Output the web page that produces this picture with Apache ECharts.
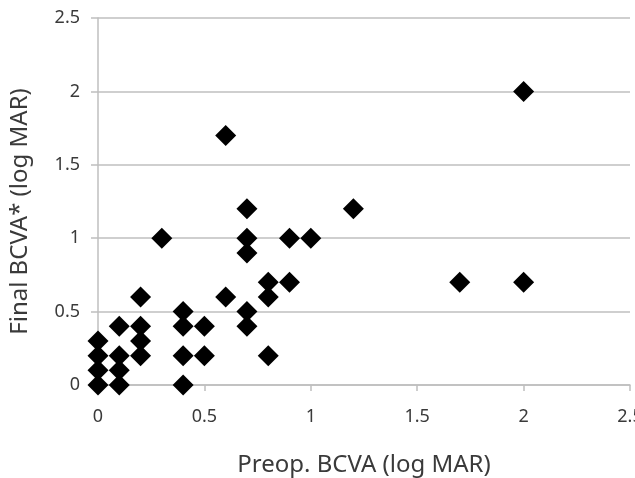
<!DOCTYPE html>
<html>
<head>
<meta charset="utf-8">
<script src="https://cdn.jsdelivr.net/npm/echarts@6/dist/echarts.min.js"></script>
<style>
html, body { margin: 0; padding: 0; background: #fff; }
#chart { width: 635px; height: 478px; }
</style>
</head>
<body>
<div id="chart"></div>
<script>
// preop / final BCVA, log MAR
var preop = [0, 0, 0, 0, 0.1, 0.1, 0.1, 0.1, 0.2, 0.2, 0.2, 0.2, 0.3, 0.4, 0.4, 0.4, 0.4, 0.5, 0.5,
	0.6, 0.6, 0.7, 0.7, 0.7, 0.7, 0.7, 0.8, 0.8, 0.8, 0.9, 0.9, 1.0, 1.2, 1.7, 2.0, 2.0];
var finalBcva = [0, 0.1, 0.2, 0.3, 0, 0.1, 0.2, 0.4, 0.2, 0.3, 0.4, 0.6, 1.0, 0, 0.2, 0.4, 0.5, 0.2, 0.4,
	0.6, 1.7, 0.4, 0.5, 0.9, 1.0, 1.2, 0.2, 0.6, 0.7, 0.7, 1.0, 1.0, 1.2, 0.7, 0.7, 2.0];
var ticks = [0, 0.5, 1, 1.5, 2, 2.5];

var points = [];
for (var i = 0; i < preop.length; i++) {
	points.push([preop[i], finalBcva[i]]);
}

var myChart = echarts.init(document.getElementById('chart'));
var font = 'Noto Sans';

option = {
	backgroundColor: '#fff',
	animation: false,
	grid: { left: 98, right: 5, top: 18, bottom: 93, outerBoundsMode: 'none' },
	xAxis: {
		type: 'value',
		min: ticks[0],
		max: ticks[ticks.length - 1],
		interval: 0.5,
		name: 'Preop. BCVA (log MAR)',
		nameLocation: 'middle',
		nameGap: 68,
		nameTextStyle: { fontFamily: font, fontSize: 24, color: '#3a3a3a' },
		axisLine: { show: true, lineStyle: { color: '#bfbfbf', width: 1.5 } },
		axisTick: { show: true, length: 6, lineStyle: { color: '#bfbfbf', width: 1.5 } },
		axisLabel: { margin: 23, fontFamily: font, fontSize: 18, color: '#3a3a3a' },
		splitLine: { show: false }
	},
	yAxis: {
		type: 'value',
		min: ticks[0],
		max: ticks[ticks.length - 1],
		interval: 0.5,
		name: 'Final BCVA* (log MAR)',
		nameLocation: 'middle',
		nameGap: 66,
		nameTextStyle: { fontFamily: font, fontSize: 24, color: '#3a3a3a', padding: [0, 20, 0, 0] },
		axisLine: { show: true, lineStyle: { color: '#bfbfbf', width: 1.5 } },
		axisTick: { show: true, length: 7, lineStyle: { color: '#bfbfbf', width: 1.5 } },
		axisLabel: { margin: 18, fontFamily: font, fontSize: 18, color: '#3a3a3a' },
		splitLine: { show: true, lineStyle: { color: '#bfbfbf', width: 1.5 } }
	},
	series: [{
		type: 'scatter',
		symbol: 'diamond',
		symbolSize: 21,
		itemStyle: { color: '#000', opacity: 1 },
		data: points
	}]
};

myChart.setOption(option);
</script>
</body>
</html>
